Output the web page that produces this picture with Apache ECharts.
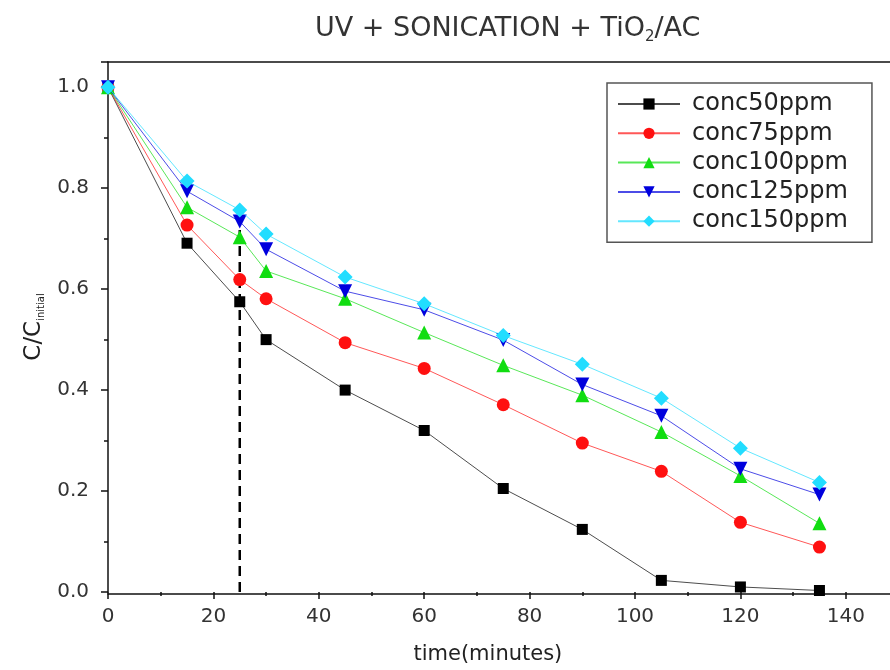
<!DOCTYPE html>
<html>
<head>
<meta charset="utf-8">
<script src="https://cdn.jsdelivr.net/npm/echarts@6/dist/echarts.min.js"></script>
<style>html,body{margin:0;padding:0;background:#fff;}#c{width:890px;height:670px;}</style>
</head>
<body>
<div id="c"></div>
<script>
const times = [0, 15, 25, 30, 45, 60, 75, 90, 105, 120, 135];
const seriesNames = ['conc50ppm', 'conc75ppm', 'conc100ppm', 'conc125ppm', 'conc150ppm'];
const conc50 = [1.0, 0.691, 0.575, 0.500, 0.400, 0.320, 0.205, 0.124, 0.023, 0.010, 0.003];
const conc75 = [1.0, 0.727, 0.619, 0.581, 0.494, 0.443, 0.371, 0.295, 0.239, 0.138, 0.089];
const conc100 = [1.0, 0.762, 0.703, 0.636, 0.581, 0.514, 0.449, 0.390, 0.317, 0.230, 0.136];
const conc125 = [1.0, 0.794, 0.734, 0.679, 0.596, 0.559, 0.499, 0.411, 0.349, 0.244, 0.193];
const conc150 = [1.0, 0.814, 0.757, 0.709, 0.624, 0.571, 0.508, 0.451, 0.384, 0.285, 0.217];
const guideX = [25, 25];
const guideY = [0, 0.734];

const FONT = 'DejaVu Sans';
const values = [conc50, conc75, conc100, conc125, conc150];
const colors = ['#000000', '#ff1010', '#11dd11', '#0000dd', '#22ddff'];
const symbols = ['rect', 'circle', 'triangle', 'triangle', 'diamond'];
const rotates = [0, 0, 0, 180, 0];
const sizes = [11, 13, 14, 14, 15];

const series = values.map((v, i) => ({
  name: seriesNames[i],
  type: 'line',
  xAxisIndex: 0, yAxisIndex: 0,
  data: times.map((t, j) => [t, v[j]]),
  symbol: symbols[i],
  symbolRotate: rotates[i],
  symbolSize: sizes[i],
  z: 3 + i,
  itemStyle: { color: colors[i] },
  lineStyle: { color: colors[i], width: 1, opacity: 0.7 }
}));
series.unshift({
  name: 'guide',
  type: 'line',
  xAxisIndex: 0, yAxisIndex: 0,
  data: guideX.map((x, j) => [x, guideY[j]]),
  symbol: 'none',
  z: 2,
  lineStyle: { color: '#000', width: 2.5, type: [10, 6] },
  silent: true
});

const axisLineStyle = { color: '#111', width: 1.5 };
const frameAxis = (pos) => ({
  gridIndex: 1, position: pos,
  type: 'value', min: 0, max: 148.4,
  axisLine: { show: true, lineStyle: axisLineStyle },
  axisTick: { show: false }, axisLabel: { show: false }, splitLine: { show: false }
});
const chart = echarts.init(document.getElementById('c'), null, { renderer: 'canvas' });
chart.setOption({
  backgroundColor: '#fff',
  animation: false,
  textStyle: { fontFamily: FONT },
  title: {
    text: '{a|UV + SONICATION + TiO}{s|2}{a|/AC}',
    left: 310, top: 8,
    textStyle: {
      fontWeight: 'normal',
      rich: {
        a: { fontSize: 27, color: '#333', fontFamily: FONT },
        s: { fontSize: 15, color: '#333', fontFamily: FONT, padding: [17, 0, 0, 0] }
      }
    }
  },
  legend: {
    data: seriesNames,
    orient: 'vertical',
    left: 607, top: 83,
    padding: [9, 24, 9, 10],
    borderColor: '#555', borderWidth: 1.5,
    itemWidth: 62, itemHeight: 14, itemGap: 5.3,
    textStyle: { fontSize: 24, color: '#222', fontFamily: FONT, padding: [0, 0, 0, 7] }
  },
  grid: [
    { left: 108, right: 44.2, top: 62, bottom: 76, show: false },
    { left: 108, right: 0, top: 62, bottom: 76, show: false }
  ],
  xAxis: [{
    gridIndex: 0,
    type: 'value', min: 0, max: 140, interval: 20,
    name: 'time(minutes)', nameLocation: 'middle', nameGap: 52,
    nameTextStyle: { fontSize: 21, color: '#222', fontFamily: FONT, padding: [0, 0, 0, 22] },
    axisLine: { show: false },
    axisTick: { inside: false, length: 7, lineStyle: axisLineStyle },
    minorTick: { show: true, splitNumber: 2, length: 4, lineStyle: axisLineStyle },
    splitLine: { show: false },
    axisLabel: { fontSize: 20, color: '#333', margin: 15, showMaxLabel: true, showMinLabel: true, fontFamily: FONT }
  }, frameAxis('bottom'), frameAxis('top')],
  yAxis: [{
    gridIndex: 0,
    type: 'value', min: 0, max: 1.05, interval: 0.2,
    name: '{m|C/C}{s|initial}', nameLocation: 'middle', nameGap: 60,
    nameTextStyle: {
      rich: {
        m: { fontSize: 23, color: '#222', fontFamily: FONT },
        s: { fontSize: 10, color: '#222', fontFamily: FONT, padding: [14, 0, 0, 0] }
      }
    },
    axisLine: { lineStyle: axisLineStyle },
    axisTick: { inside: false, length: 7, lineStyle: axisLineStyle },
    minorTick: { show: true, splitNumber: 2, length: 4, lineStyle: axisLineStyle },
    splitLine: { show: false },
    axisLabel: { fontSize: 20, color: '#333', margin: 19, showMaxLabel: false, fontFamily: FONT,
      formatter: v => (Math.abs(v * 5 - Math.round(v * 5)) < 1e-6 && v <= 1.0001 ? v.toFixed(1) : '') }
  }, {
    gridIndex: 1, type: 'value', min: 0, max: 1.05, show: false
  }],
  series: series
});
</script>
</body>
</html>
